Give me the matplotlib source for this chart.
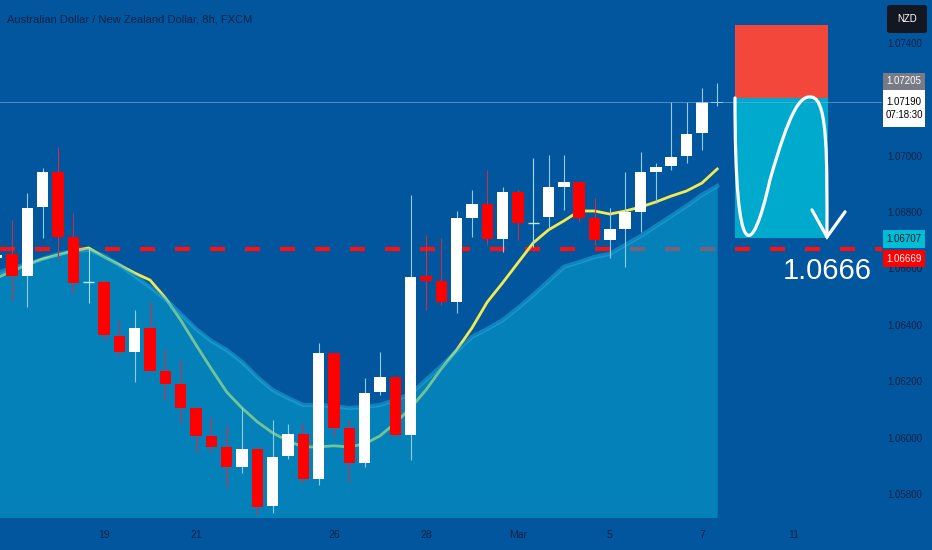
import matplotlib.pyplot as plt
from matplotlib.patches import Rectangle, FancyBboxPatch, PathPatch
from matplotlib.path import Path

# AUD/NZD 8h candles, Feb 14 - Mar 7
opens = [1.06637, 1.06652, 1.06574, 1.06818, 1.06942, 1.06712, 1.06552, 1.06552,
         1.06361, 1.06304, 1.06389, 1.06237, 1.06190, 1.06105, 1.06006, 1.05967,
         1.05896, 1.05960, 1.05758, 1.05935, 1.06013, 1.05853, 1.06300, 1.06034,
         1.05910, 1.06162, 1.06215, 1.06010, 1.06574, 1.06556, 1.06481, 1.06779,
         1.06829, 1.06705, 1.06871, 1.06762, 1.06783, 1.06889, 1.06907, 1.06779,
         1.06701, 1.06740, 1.06801, 1.06942, 1.06964, 1.06999, 1.07081, 1.07186]
highs = [1.06666, 1.06772, 1.06868, 1.06957, 1.07031, 1.06797, 1.06673, 1.06559,
         1.06417, 1.06453, 1.06481, 1.06311, 1.06276, 1.06105, 1.06073, 1.06045,
         1.06109, 1.05967, 1.06063, 1.06049, 1.06052, 1.06336, 1.06300, 1.06063,
         1.06212, 1.06304, 1.06215, 1.06861, 1.06719, 1.06708, 1.06804, 1.06879,
         1.06950, 1.06889, 1.06879, 1.06992, 1.07003, 1.07003, 1.06907, 1.06850,
         1.06815, 1.06942, 1.07013, 1.06974, 1.07191, 1.07191, 1.07240, 1.07258]
lows = [1.06623, 1.06488, 1.06464, 1.06708, 1.06630, 1.06513, 1.06478, 1.06347,
        1.06293, 1.06198, 1.06237, 1.06134, 1.06052, 1.05949, 1.05949, 1.05825,
        1.05875, 1.05726, 1.05733, 1.05924, 1.05839, 1.05832, 1.06002, 1.05843,
        1.05896, 1.06151, 1.06002, 1.05921, 1.06453, 1.06471, 1.06442, 1.06712,
        1.06684, 1.06659, 1.06701, 1.06676, 1.06744, 1.06808, 1.06765, 1.06684,
        1.06637, 1.06606, 1.06730, 1.06832, 1.06950, 1.06974, 1.07020, 1.07177]
closes = [1.06648, 1.06574, 1.06815, 1.06942, 1.06712, 1.06549, 1.06552, 1.06364,
          1.06304, 1.06389, 1.06237, 1.06190, 1.06105, 1.06006, 1.05967, 1.05896,
          1.05960, 1.05754, 1.05932, 1.06013, 1.05853, 1.06300, 1.06034, 1.05910,
          1.06159, 1.06215, 1.06010, 1.06570, 1.06556, 1.06481, 1.06779, 1.06829,
          1.06705, 1.06871, 1.06762, 1.06762, 1.06889, 1.06907, 1.06779, 1.06701,
          1.06740, 1.06801, 1.06942, 1.06960, 1.06996, 1.07077, 1.07191, 1.07190]

# yellow moving average and the upper edge of the shaded band
ma_line = [1.06566, 1.06591, 1.06613, 1.06634, 1.06648, 1.06662, 1.06673, 1.06641,
           1.06613, 1.06584, 1.06559, 1.06496, 1.06417, 1.06329, 1.06244, 1.06162,
           1.06105, 1.06056, 1.06017, 1.05988, 1.05967, 1.05967, 1.05971, 1.05967,
           1.05978, 1.06006, 1.06052, 1.06105, 1.06169, 1.06244, 1.06311, 1.06389,
           1.06481, 1.06549, 1.06620, 1.06691, 1.06737, 1.06769, 1.06804, 1.06804,
           1.06793, 1.06804, 1.06818, 1.06836, 1.06857, 1.06875, 1.06903, 1.06953]
band_top = [1.06584, 1.06602, 1.06616, 1.06634, 1.06652, 1.06662, 1.06666, 1.06645,
            1.06613, 1.06574, 1.06535, 1.06492, 1.06439, 1.06386, 1.06343, 1.06311,
            1.06269, 1.06215, 1.06169, 1.06141, 1.06116, 1.06116, 1.06112, 1.06105,
            1.06109, 1.06116, 1.06134, 1.06155, 1.06205, 1.06254, 1.06308, 1.06357,
            1.06386, 1.06417, 1.06460, 1.06506, 1.06556, 1.06606, 1.06623, 1.06641,
            1.06652, 1.06684, 1.06715, 1.06751, 1.06786, 1.06822, 1.06861, 1.06893]

day_ticks = [7, 13, 22, 28, 34, 40, 46, 52]
day_labels = ["19", "21", "26", "28", "Mar", "5", "7", "11"]
price_ticks = [1.058, 1.060, 1.062, 1.064, 1.066, 1.068, 1.070, 1.074]

entry = 1.07205
stop = 1.07464
target = 1.06707
level = 1.06669
last_price = 1.07190
box_left, box_right = 48.16, 54.23

BG = "#01569e"
NAVY = "#0d2246"
plt.rcParams["font.family"] = ["Liberation Sans", "DejaVu Sans"]

fig = plt.figure(figsize=(9.32, 5.5), dpi=100, facecolor=BG)
ax = fig.add_axes([0, 0.06, 882 / 932, 0.94])
ax.set_facecolor(BG)
xs = list(range(len(opens)))

# indicators
ax.plot(xs, ma_line, color="#f4ea4f", lw=2.0, zorder=2)
ax.axhline(level, color="#ff1010", lw=3, ls=(0, (3.6, 4.8)), zorder=1.5)
ax.fill_between(xs, band_top, 1.05, color="#0aa5d0", alpha=0.55, lw=0, zorder=3)
ax.plot(xs, band_top, color="#2ab6e2", lw=3, alpha=0.45, zorder=3)

# candles
for i in xs:
    o, h, l, c = opens[i], highs[i], lows[i], closes[i]
    if abs(c - o) < 1e-6:
        ax.vlines(i, l, h, color="#9fdcef", lw=0.8, zorder=4)
        ax.hlines(o, i - 0.37, i + 0.37, color="#b5ecf4", lw=1.0, zorder=5)
        continue
    up = c > o
    body = "#ffffff" if up else "#ff0000"
    wick = "#8fcdee" if up else "#c8304a"
    ax.vlines(i, l, h, color=wick, lw=0.8, zorder=4)
    ax.bar(i, abs(c - o), bottom=min(o, c), width=0.75, color=body, lw=0, zorder=5)

# short position tool
ax.add_patch(Rectangle((box_left, entry), box_right - box_left, stop - entry,
                       facecolor="#f4473b", lw=0, zorder=4))
ax.add_patch(Rectangle((box_left, target), box_right - box_left, entry - target,
                       facecolor="#00aacd", lw=0, zorder=4))
ax.axhline(last_price, color="#6aa8e0", lw=0.6, alpha=0.8, zorder=6)

# hand drawn swing + arrow
verts = [(48.16, 1.07205), (48.16, 1.06595), (49.27, 1.06630), (50.44, 1.06914),
         (51.75, 1.07162), (52.40, 1.07216), (53.18, 1.07208),
         (54.23, 1.07198), (54.16, 1.06985), (54.16, 1.06712)]
codes = [Path.MOVETO] + [Path.CURVE4] * 9
ax.add_patch(PathPatch(Path(verts, codes), fill=False, edgecolor="white", lw=2.3,
                       capstyle="round", zorder=7))
ax.plot([53.18, 54.16, 55.34], [1.06808, 1.06712, 1.06801], color="white", lw=2.3,
        solid_capstyle="round", solid_joinstyle="miter", zorder=7)
ax.text(54.2, 1.06592, "1.0666", color="white", fontsize=21, ha="center", va="center",
        zorder=7)

ax.set_xlim(0.215, 57.75)
ax.set_ylim(1.057184, 1.075525)
for s in ax.spines.values():
    s.set_visible(False)
ax.yaxis.tick_right()
ax.set_yticks(price_ticks)
ax.set_yticklabels([f"{p:.5f}" for p in price_ticks])
ax.set_xticks(day_ticks)
ax.set_xticklabels(day_labels)
ax.tick_params(axis="y", length=0, pad=4, labelcolor=NAVY, labelsize=7)
ax.tick_params(axis="x", length=0, pad=9, labelcolor=NAVY, labelsize=7.5)

fig.text(7 / 932, 1 - 19 / 550, "Australian Dollar / New Zealand Dollar, 8h, FXCM",
         color=NAVY, fontsize=8, va="center")

# price scale badges
def badge(y0, y1, face, lines, tcol):
    fig.add_artist(Rectangle((883 / 932, 1 - y1 / 550), 42 / 932, (y1 - y0) / 550,
                             transform=fig.transFigure, facecolor=face, lw=0, zorder=5))
    fig.text(904 / 932, 1 - (y0 + y1) / 2 / 550, lines, color=tcol, fontsize=7,
             ha="center", va="center", linespacing=1.35, zorder=6)

fig.add_artist(FancyBboxPatch((887 / 932, 1 - 33 / 550), 40 / 932, 28 / 550,
                              boxstyle="round,pad=0,rounding_size=0.004",
                              transform=fig.transFigure, facecolor="#131722", lw=0))
fig.text(907 / 932, 1 - 19 / 550, "NZD", color="white", fontsize=7,
         ha="center", va="center")
badge(73, 90, "#787b86", f"{entry:.5f}", "white")
badge(90, 127, "white", f"{last_price:.5f}\n07:18:30", "black")
badge(230, 248, "#00bcd4", f"{target:.5f}", "#0d1a2a")
badge(250, 267, "#ff0000", f"{level:.5f}", "white")

fig.savefig("out.png", dpi=100, facecolor=BG)
